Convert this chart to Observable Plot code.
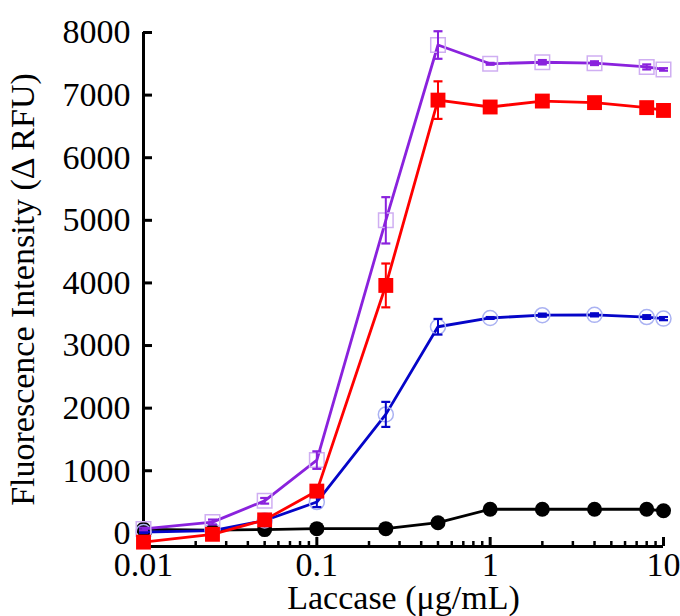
<!DOCTYPE html>
<html><head><meta charset="utf-8">
<script src="https://cdn.jsdelivr.net/npm/d3@7"></script>
<script src="https://cdn.jsdelivr.net/npm/@observablehq/plot@0.6"></script>
<style>body{margin:0;background:#fff}</style>
</head><body><div id="chart"></div>
<script>
const conc = [0.01, 0.025, 0.05, 0.1, 0.25, 0.5, 1, 2, 4, 8, 10];
const purple = [70, 180, 520, 1170, 5000, 7800, 7500, 7525, 7510, 7450, 7410];
const purpleErr = [20, 40, 45, 140, 370, 220, 15, 35, 30, 40, 20];
const red = [-140, -15, 215, 675, 3960, 6920, 6810, 6905, 6880, 6800, 6755];
const redErr = [20, 30, 40, 60, 350, 300, 30, 30, 30, 30, 30];
const blue = [20, 45, 205, 500, 1900, 3300, 3440, 3485, 3490, 3455, 3430];
const blueErr = [15, 20, 30, 80, 200, 125, 15, 25, 25, 30, 25];
const black = [65, 50, 60, 75, 75, 170, 385, 385, 385, 385, 360];
const blackErr = [10, 10, 10, 10, 10, 15, 15, 15, 15, 15, 15];
const yTicks = [0, 1000, 2000, 3000, 4000, 5000, 6000, 7000, 8000];
const xMajor = [0.01, 0.1, 1, 10];
const xMinor = [0.02,0.03,0.04,0.05,0.06,0.07,0.08,0.09,0.2,0.3,0.4,0.5,0.6,0.7,0.8,0.9,2,3,4,5,6,7,8,9];

function rows(vals, errs) {
  return conc.map((x, i) => ({x, y: vals[i], lo: vals[i] - errs[i], hi: vals[i] + errs[i]}));
}
const cap = {draw(ctx) { ctx.moveTo(-4.5, 0); ctx.lineTo(4.5, 0); }};
const FF = "Liberation Serif";

const series = [
  {data: rows(black, blackErr), line: "#000000", symbol: "circle", r: 7.5, fill: "#000000", stroke: "none"},
  {data: rows(blue, blueErr), line: "#0505c8", symbol: "circle", r: 7.5, fill: "none", stroke: "#aab2f2"},
  {data: rows(purple, purpleErr), line: "#8a22dd", symbol: "square", r: 8.2, fill: "none", stroke: "#cfaef2"},
  {data: rows(red, redErr), line: "#ff0000", symbol: "square", r: 8.4, fill: "#ff0000", stroke: "none"}
];

const marks = [];
for (const s of series) {
  marks.push(Plot.line(s.data, {x: "x", y: "y", stroke: s.line, strokeWidth: 2.8}));
  marks.push(Plot.dot(s.data, {x: "x", y: "y", symbol: s.symbol, r: s.r, fill: s.fill, stroke: s.stroke, strokeWidth: 1.5}));
  marks.push(Plot.ruleX(s.data, {x: "x", y1: "lo", y2: "hi", stroke: s.line, strokeWidth: 2}));
  marks.push(Plot.dot(s.data, {x: "x", y: "lo", symbol: cap, stroke: s.line, strokeWidth: 2.2, fill: "none"}));
  marks.push(Plot.dot(s.data, {x: "x", y: "hi", symbol: cap, stroke: s.line, strokeWidth: 2.2, fill: "none"}));
}

const chart = Plot.plot({
  width: 680, height: 616,
  marginLeft: 143, marginRight: 17, marginTop: 32, marginBottom: 70,
  style: {fontFamily: FF, fontSize: "34px"},
  x: {type: "log", domain: [0.01, 10]},
  y: {domain: [-210, 8000]},
  marks: [
    Plot.axisY({ticks: yTicks, tickSize: -9, strokeWidth: 3, tickPadding: 22, tickFormat: d => String(d), fontFamily: FF,
      label: "Fluorescence Intensity (Δ RFU)", labelAnchor: "center", labelArrow: "none", labelOffset: 134}),
    Plot.axisX({ticks: xMajor, tickSize: -9, strokeWidth: 3, tickPadding: 14, tickFormat: d => String(d), fontFamily: FF,
      label: "Laccase (μg/mL)", labelAnchor: "center", labelArrow: "none", labelOffset: 62}),
    Plot.axisX({ticks: xMinor, tickSize: -5, strokeWidth: 2.5, text: null, label: null}),
    Plot.ruleY([-210], {x1: 0.01, x2: 10, strokeWidth: 3, stroke: "#000"}),
    Plot.ruleX([0.01], {y1: -210, y2: 8000, strokeWidth: 3, stroke: "#000"}),
    ...marks
  ]
});
document.getElementById("chart").appendChild(chart);
</script>
</body></html>
